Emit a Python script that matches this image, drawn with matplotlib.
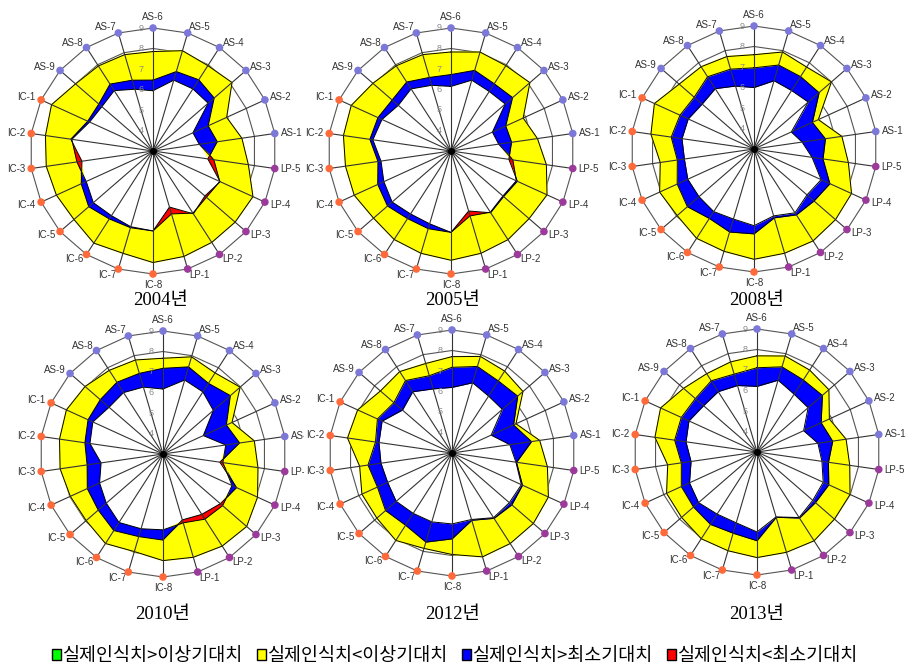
import numpy as np
import matplotlib
matplotlib.use("Agg")
import matplotlib.pyplot as plt
from matplotlib.patches import Patch
from matplotlib.transforms import Bbox, TransformedBbox

plt.rcParams["font.family"] = ["Liberation Sans", "Noto Sans CJK KR"]

# 축 순서: AS-6 (위) 부터 시계방향
LABELS = ["AS-6", "AS-5", "AS-4", "AS-3", "AS-2", "AS-1", "LP-5", "LP-4", "LP-3", "LP-2", "LP-1",
          "IC-8", "IC-7", "IC-6", "IC-5", "IC-4", "IC-3", "IC-2", "IC-1", "AS-9", "AS-8", "AS-7"]
YEARS = ["2004", "2005", "2008", "2010", "2012", "2013"]
RINGS = [4, 5, 6, 7, 8, 9]

# 이상기대치 / 실제인식치 / 최소기대치
IDEAL_2004 = [7.85, 8.10, 7.95, 8.10, 6.95, 7.38, 7.70, 8.36, 8.30, 8.30, 8.36, 8.44, 8.20, 8.34, 8.10, 8.18, 8.26, 8.30, 8.44, 8.00, 7.93, 7.90]
ACTUAL_2004 = [6.46, 7.04, 7.13, 6.95, 5.96, 6.17, 5.70, 6.60, 6.35, 6.64, 5.85, 6.90, 6.90, 6.94, 7.15, 6.85, 6.50, 7.05, 6.50, 6.50, 6.88, 6.60]
MIN_2004 = [5.94, 6.60, 6.60, 6.56, 5.14, 5.28, 6.00, 6.58, 6.45, 6.60, 6.20, 6.90, 6.85, 6.75, 6.85, 6.58, 6.75, 7.00, 6.40, 6.30, 6.50, 6.14]

IDEAL_2005 = [7.83, 8.03, 7.95, 8.09, 6.87, 7.26, 7.70, 8.15, 8.04, 8.14, 8.20, 8.33, 8.20, 8.13, 8.00, 8.19, 8.20, 8.30, 8.35, 8.04, 7.94, 7.90]
ACTUAL_2005 = [6.73, 7.10, 6.90, 6.98, 5.94, 5.99, 5.85, 6.56, 6.40, 6.58, 6.05, 6.97, 6.95, 6.92, 7.10, 6.93, 6.60, 7.00, 6.92, 6.80, 7.00, 6.74]
MIN_2005 = [6.15, 6.60, 6.45, 6.50, 5.22, 5.35, 6.05, 6.50, 6.35, 6.55, 6.30, 6.97, 6.70, 6.65, 6.80, 6.60, 6.45, 6.85, 6.70, 6.40, 6.60, 6.34]

IDEAL_2008 = [7.60, 7.93, 7.75, 8.00, 6.45, 7.33, 7.65, 8.23, 8.26, 8.33, 8.30, 8.38, 8.20, 8.18, 7.96, 8.06, 7.62, 8.08, 8.34, 7.83, 7.77, 7.70]
ACTUAL_2008 = [6.96, 7.27, 7.20, 7.20, 6.13, 6.52, 6.40, 7.07, 6.87, 6.82, 6.50, 7.14, 7.22, 7.03, 7.30, 7.12, 6.78, 7.08, 6.97, 6.86, 7.19, 7.06]
MIN_2008 = [6.00, 6.47, 6.39, 6.50, 5.00, 5.37, 5.86, 6.60, 6.42, 6.70, 6.40, 6.74, 6.56, 6.63, 6.55, 6.55, 6.43, 6.55, 6.53, 6.35, 6.50, 6.20]

IDEAL_2010 = [7.67, 7.94, 7.70, 7.98, 6.70, 7.50, 7.68, 8.07, 8.40, 8.34, 8.25, 8.20, 7.96, 8.19, 7.96, 7.97, 8.07, 8.10, 8.18, 8.03, 7.85, 7.78]
ACTUAL_2010 = [7.18, 7.43, 7.10, 7.35, 6.40, 6.78, 5.80, 6.95, 6.70, 6.50, 6.35, 7.20, 7.20, 7.44, 7.18, 7.06, 6.74, 6.85, 7.02, 7.05, 7.16, 7.10]
MIN_2010 = [6.17, 6.76, 6.60, 6.25, 5.16, 6.09, 5.95, 6.70, 6.85, 6.78, 6.50, 6.70, 6.80, 6.97, 6.66, 6.40, 6.05, 6.60, 6.76, 6.48, 6.56, 6.40]

IDEAL_2012 = [7.70, 7.91, 7.75, 7.58, 6.43, 7.32, 7.70, 8.17, 8.25, 8.25, 8.28, 7.95, 7.85, 8.07, 7.85, 7.83, 7.55, 8.15, 8.06, 7.62, 7.72, 7.55]
ACTUAL_2012 = [7.18, 7.40, 7.18, 7.24, 6.30, 6.92, 6.18, 6.78, 6.86, 6.79, 6.42, 7.19, 7.53, 7.19, 7.29, 7.00, 7.14, 6.77, 7.00, 6.75, 7.20, 6.93]
MIN_2012 = [6.20, 6.57, 6.30, 6.25, 5.10, 5.85, 6.15, 6.72, 6.70, 6.75, 6.38, 6.46, 6.50, 6.50, 6.60, 6.45, 6.50, 6.60, 6.75, 6.20, 6.55, 6.26]

IDEAL_2013 = [7.69, 7.88, 7.75, 7.64, 6.88, 7.39, 7.57, 7.99, 8.00, 8.15, 8.10, 8.15, 8.02, 8.03, 7.87, 7.85, 7.40, 8.03, 8.17, 7.74, 7.54, 7.58]
ACTUAL_2013 = [7.11, 7.33, 7.18, 7.22, 6.44, 6.73, 6.52, 6.85, 6.77, 6.83, 6.32, 7.33, 7.13, 7.20, 7.10, 7.06, 6.73, 7.06, 7.06, 6.98, 7.13, 6.96]
MIN_2013 = [6.20, 6.65, 6.35, 6.30, 5.50, 6.00, 6.20, 6.55, 6.60, 6.80, 6.30, 6.90, 6.60, 6.60, 6.77, 6.62, 6.25, 6.50, 6.65, 6.45, 6.50, 6.38]

PANELS = [
    (IDEAL_2004, ACTUAL_2004, MIN_2004),
    (IDEAL_2005, ACTUAL_2005, MIN_2005),
    (IDEAL_2008, ACTUAL_2008, MIN_2008),
    (IDEAL_2010, ACTUAL_2010, MIN_2010),
    (IDEAL_2012, ACTUAL_2012, MIN_2012),
    (IDEAL_2013, ACTUAL_2013, MIN_2013),
]

W, H = 907, 665
R = 123  # 9 눈금 반지름 (px)
CENTERS = [(153, 151), (451, 151), (754, 149), (163, 454), (452, 453), (757, 452)]
TITLE_POS = [(160, 300), (452, 300), (757, 300), (162, 615), (452, 615), (757, 615)]
CLIP_RIGHT = {3: 304}  # 2010 패널 오른쪽 라벨은 잘려 있음
GROUP_COLORS = {"AS": "#7b78d8", "LP": "#9c3a9c", "IC": "#ff6a3a"}

fig = plt.figure(figsize=(W / 100, H / 100), dpi=100)

n = len(LABELS)
theta = np.linspace(0, 2 * np.pi, n, endpoint=False)
th = np.append(theta, theta[0])


def closed(v):
    v = np.asarray(v, dtype=float)
    return np.append(v, v[0])


for i, (ideal, actual, minimum) in enumerate(PANELS):
    cx, cy = CENTERS[i]
    ax = fig.add_axes([(cx - R) / W, 1 - (cy + R) / H, 2 * R / W, 2 * R / H], projection="polar")
    ax.set_theta_zero_location("N")
    ax.set_theta_direction(-1)
    ax.set_ylim(3, 9)
    ax.set_xticks([])
    ax.set_yticks([])
    ax.grid(False)
    ax.spines["polar"].set_visible(False)
    ax.patch.set_alpha(0)

    ide, act, mn = closed(ideal), closed(actual), closed(minimum)

    for r in RINGS:
        ax.plot(th, [r] * len(th), color="#555555", lw=0.8, zorder=1, clip_on=False)

    ax.fill(th, ide, color="#ffff00", zorder=2)
    ax.fill(th, np.minimum(act, mn), color="white", zorder=2.1)
    ax.fill_between(th, mn, act, where=act >= mn, interpolate=True, color="#0000ff", lw=0, zorder=2.2)
    ax.fill_between(th, act, mn, where=act < mn, interpolate=True, color="#ff0000", lw=0, zorder=2.2)
    for s in (ide, act, mn):
        ax.plot(th, s, color="black", lw=0.7, zorder=2.5)

    for t in theta:
        ax.plot([t, t], [3, 9], color="#333333", lw=0.8, zorder=3, clip_on=False)
    ax.plot([0], [3], "o", color="black", ms=4, zorder=3.5)

    cols = [GROUP_COLORS[lab[:2]] for lab in LABELS]
    ax.scatter(theta, [9] * n, s=20, c=cols, zorder=4, clip_on=False)

    for r in RINGS:
        ax.annotate(str(r), xy=(0, r), xytext=(-8.5, 0), textcoords="offset points",
                    ha="center", va="center", fontsize=6.5, color="#8a8a8a", zorder=5)

    clip = None
    if i in CLIP_RIGHT:
        clip = TransformedBbox(Bbox.from_extents(0, 0, CLIP_RIGHT[i] / W, 1), fig.transFigure)
    for t, lab in zip(theta, LABELS):
        sx, cy_ = np.sin(t), np.cos(t)
        if abs(sx) < 0.05:
            d, ha = 8.0, "center"
        else:
            d, ha = 4.3, ("left" if sx > 0 else "right")
        txt = ax.annotate(lab, xy=(t, 9), xytext=(sx * d, cy_ * d), textcoords="offset points",
                          ha=ha, va="center", fontsize=7, color="#333333", annotation_clip=False)
        if clip is not None:
            txt.set_clip_box(clip)
            txt.set_clip_on(True)

    tx, ty = TITLE_POS[i]
    fig.text(tx / W, 1 - ty / H, f"{YEARS[i]}년", ha="center", va="center", fontsize=13.5,
             family=["Liberation Serif", "Noto Sans CJK KR"])

handles = [
    Patch(facecolor="#00ff00", edgecolor="black", label="실제인식치>이상기대치"),
    Patch(facecolor="#ffff00", edgecolor="black", label="실제인식치<이상기대치"),
    Patch(facecolor="#0000ff", edgecolor="black", label="실제인식치>최소기대치"),
    Patch(facecolor="#ff0000", edgecolor="black", label="실제인식치<최소기대치"),
]
fig.legend(handles=handles, loc="center", bbox_to_anchor=(455 / W, 1 - 656 / H), ncol=4,
           frameon=False, handlelength=0.5, handleheight=0.5, handletextpad=0.1,
           columnspacing=0.75, prop={"family": ["Noto Sans CJK KR"], "size": 13.3})

fig.savefig("out.png", dpi=100)
